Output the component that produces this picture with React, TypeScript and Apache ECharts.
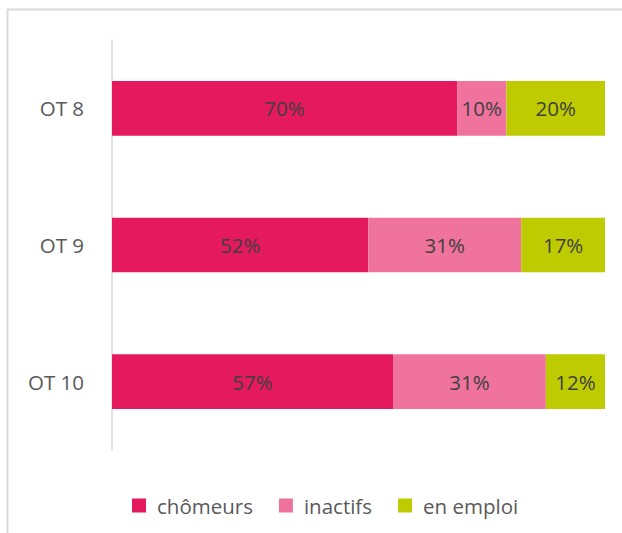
import React, { useEffect, useRef } from "react";
import * as echarts from "echarts";

const categories = ["OT 8", "OT 9", "OT 10"];
const seriesNames = ["chômeurs", "inactifs", "en emploi"];
const chomeurs = [70, 52, 57];
const inactifs = [10, 31, 31];
const enEmploi = [20, 17, 12];
const colors = ["#E5195E", "#F0739E", "#BDCB00"];

export default function App() {
  const ref = useRef<HTMLDivElement>(null);
  useEffect(() => {
    if (!ref.current) return;
    const chart = echarts.init(ref.current, null, { renderer: "svg" });
    const font = "'Open Sans', sans-serif";
    const values = [chomeurs, inactifs, enEmploi];
    chart.setOption({
      animation: false,
      backgroundColor: "#ffffff",
      textStyle: { fontFamily: font },
      graphic: [
        {
          type: "rect",
          shape: { x: 7.5, y: 9.5, width: 700, height: 600 },
          style: { fill: "none", stroke: "#d9d9d9", lineWidth: 2 },
          silent: true,
        },
      ],
      grid: { left: 112, right: 17, top: 40, bottom: 83 },
      xAxis: {
        type: "value",
        min: 0,
        max: 100,
        show: false,
      },
      yAxis: {
        type: "category",
        inverse: true,
        data: categories,
        axisLine: { show: true, lineStyle: { color: "#d9d9d9", width: 1.5 } },
        axisTick: { show: false },
        axisLabel: { color: "#595959", fontSize: 20.5, margin: 28, fontFamily: font },
      },
      legend: {
        bottom: 12,
        left: 127,
        itemWidth: 14,
        itemHeight: 14,
        itemGap: 26,
        icon: "rect",
        textStyle: { color: "#595959", fontSize: 20.5, fontFamily: font, padding: [0, 0, 0, 6] },
        data: seriesNames,
      },
      series: seriesNames.map((name, i) => ({
        name,
        type: "bar",
        stack: "total",
        barCategoryGap: "60%",
        data: values[i],
        itemStyle: { color: colors[i] },
        label: {
          show: true,
          position: "inside",
          formatter: "{c}%",
          color: "#404040",
          fontSize: 20.5,
          fontFamily: font,
        },
      })),
    });
    return () => chart.dispose();
  }, []);
  return (
    <div
      ref={ref}
      style={{ position: "fixed", left: 0, top: 0, width: 622, height: 533 }}
    />
  );
}
